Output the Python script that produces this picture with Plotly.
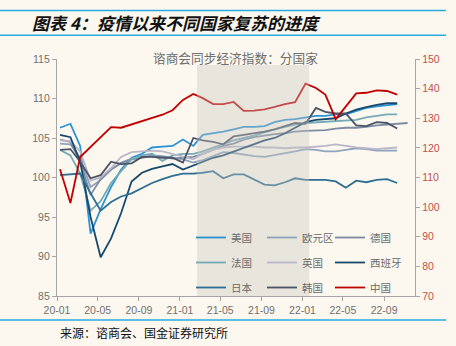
import pandas as pd
import plotly.graph_objects as go

months = pd.date_range("2020-01-01", periods=35, freq="MS")
tick_months = pd.date_range("2020-01-01", "2022-09-01", freq="4MS")
tick_labels = [m.strftime("%y-%m") for m in tick_months]

us = [106.3, 106.8, 104.0, 92.9, 96.0, 98.8, 101.0, 102.5, 103.0, 103.8, 103.9, 104.0, 104.8, 104.0, 105.4, 105.6, 105.8,
      106.1, 106.4, 106.4, 106.5, 107.0, 107.3, 107.4, 107.6, 107.8, 107.8, 108.0, 108.0, 108.4, 108.8, 109.0, 109.2, 109.3]
ez = [104.3, 104.2, 102.5, 98.8, 99.7, 101.0, 101.9, 102.4, 102.6, 102.8, 102.7, 102.5, 102.3, 101.9, 102.2, 102.7, 103.2,
      103.1, 102.9, 102.7, 102.6, 102.8, 103.1, 103.3, 103.6, 103.5, 103.3, 103.3, 103.5, 103.7, 103.6, 103.4, 103.4, 103.4]
de = [104.8, 104.5, 102.0, 97.8, 99.8, 101.0, 101.8, 102.3, 102.5, 102.7, 102.6, 102.4, 102.5, 102.6, 103.0, 103.5, 104.0,
      104.3, 104.8, 105.1, 105.3, 105.5, 105.6, 105.8, 105.9, 106.0, 106.0, 106.2, 106.3, 106.3, 106.4, 106.6, 106.7, 106.8, 106.9]
fr = [103.5, 102.8, 100.5, 95.8, 97.0, 99.3, 100.8, 102.3, 102.8, 103.0, 102.1, 102.8, 103.0, 103.0, 103.3, 103.8, 104.2,
      104.7, 105.0, 105.3, 105.7, 106.1, 106.4, 106.7, 106.9, 107.0, 107.0, 107.1, 107.2, 107.3, 107.6, 107.8, 108.0, 108.0]
uk = [104.7, 104.6, 103.3, 99.6, 100.0, 101.2, 102.6, 103.2, 103.3, 103.4, 103.3, 103.0, 102.7, 102.3, 103.0, 103.5, 103.8,
      103.9, 103.9, 103.9, 103.8, 103.8, 103.7, 103.8, 103.8, 103.9, 104.0, 104.2, 104.0, 103.8, 103.7, 103.6, 103.7, 103.8]
es = [105.4, 105.1, 102.0, 95.0, 89.9, 92.3, 95.5, 99.5, 100.6, 101.1, 101.4, 101.7, 101.0, 101.5, 102.0, 102.5, 102.8,
      103.3, 103.8, 104.3, 104.7, 105.0, 105.6, 106.3, 107.0, 107.3, 107.4, 107.5, 108.1, 108.6, 108.9, 109.2, 109.4, 109.4]
jp = [100.3, 100.4, 100.5, 98.0, 95.8, 96.9, 97.6, 98.0, 98.7, 99.3, 99.8, 100.2, 100.5, 100.5, 100.6, 100.8, 99.9,
      100.4, 100.4, 99.7, 99.1, 99.0, 99.4, 99.9, 99.7, 99.7, 99.7, 99.5, 98.7, 99.6, 99.4, 99.7, 99.8, 99.3]
kr = [103.5, 103.6, 102.0, 99.9, 100.3, 102.0, 101.7, 101.8, 102.6, 102.6, 102.5, 102.5, 101.9, 105.0, 104.7, 104.5, 104.2,
      105.2, 105.4, 105.6, 105.8, 106.1, 106.5, 106.9, 106.8, 108.8, 108.3, 108.1, 108.1, 106.6, 106.5, 107.0, 106.9, 106.2]
cn = [112.8, 101.4, 116.9, 120.3, 123.7, 127.0, 126.8, 127.9, 129.1, 130.3, 131.2, 132.7, 136.2, 138.2, 136.8, 134.8, 134.8,
      135.5, 132.5, 132.6, 133.0, 133.8, 134.8, 135.4, 141.7, 140.2, 138.0, 129.7, 133.8, 138.4, 138.6, 139.4, 139.2, 138.0]

series = [
    ("美国", us, "#2a93d5", "legend", "y"),
    ("欧元区", ez, "#8fa4bc", "legend2", "y"),
    ("德国", de, "#7d8ba3", "legend3", "y"),
    ("法国", fr, "#74aab6", "legend", "y"),
    ("英国", uk, "#b9b7c9", "legend2", "y"),
    ("西班牙", es, "#17496e", "legend3", "y"),
    ("日本", jp, "#2e6e93", "legend", "y"),
    ("韩国", kr, "#4b5467", "legend2", "y"),
    ("中国", cn, "#c00000", "legend3", "y2"),
]

fig = go.Figure()
for name, vals, color, leg, yax in series:
    fig.add_trace(go.Scatter(
        x=months[:len(vals)], y=vals, name=name, mode="lines",
        line=dict(color=color, width=1.8), legend=leg, legendgroup=name, yaxis=yax))

# pixel helpers for paper coords (plot area: x 57..415, y 59..296)
def px(xp):
    return (xp - 57) / 358.0

def py(yp):
    return (296 - yp) / 237.0

grey = "#707070"
tickfont = dict(family="Liberation Sans, Arial, sans-serif", size=10.5, color=grey)
legfont = dict(family="Noto Sans CJK SC, sans-serif", size=10.5, color="#6a6a6a")

fig.update_layout(
    width=456, height=346,
    margin=dict(l=57, r=41, t=59, b=50),
    paper_bgcolor="#fcf8ef", plot_bgcolor="#fcf8ef",
    showlegend=True,
    xaxis=dict(
        type="date",
        range=["2019-12-23", "2022-11-23"],
        tickvals=[m - pd.Timedelta(days=9) for m in tick_months],
        ticktext=tick_labels,
        ticks="outside", ticklen=4, tickcolor="#a6a6a6",
        showline=True, linecolor="#a6a6a6", linewidth=1.2,
        showgrid=False, zeroline=False, tickfont=tickfont,
    ),
    yaxis=dict(
        range=[85, 115], dtick=5, ticks="outside", ticklen=4, tickcolor="#a6a6a6",
        showline=True, linecolor="#a6a6a6", linewidth=1.2,
        showgrid=False, zeroline=False, tickfont=tickfont,
    ),
    yaxis2=dict(
        range=[70, 150], dtick=10, overlaying="y", side="right",
        ticks="outside", ticklen=4, tickcolor="#a6a6a6",
        showline=True, linecolor="#a6a6a6", linewidth=1.2,
        showgrid=False, zeroline=False,
        tickfont=dict(family="Liberation Sans, Arial, sans-serif", size=10.5, color="#c0504d"),
    ),
    legend=dict(x=px(191), y=py(223), xanchor="left", yanchor="top", bgcolor="rgba(0,0,0,0)",
                font=legfont, tracegroupgap=6),
    legend2=dict(x=px(262), y=py(223), xanchor="left", yanchor="top", bgcolor="rgba(0,0,0,0)",
                 font=legfont, tracegroupgap=6),
    legend3=dict(x=px(330), y=py(223), xanchor="left", yanchor="top", bgcolor="rgba(0,0,0,0)",
                 font=legfont, tracegroupgap=6),
    shapes=[
        dict(type="rect", xref="x", yref="paper", x0="2021-02-12", x1="2022-01-12", y0=0, y1=py(65),
             fillcolor="rgba(200,198,192,0.38)", line=dict(width=0), layer="above"),
        dict(type="line", xref="paper", yref="paper", x0=px(0), x1=px(446), y0=py(10.5), y1=py(10.5),
             line=dict(color="#29abe2", width=1.6)),
        dict(type="line", xref="paper", yref="paper", x0=px(0), x1=px(446), y0=py(35.3), y1=py(35.3),
             line=dict(color="#29abe2", width=1.6)),
        dict(type="line", xref="paper", yref="paper", x0=px(0), x1=px(446), y0=py(320), y1=py(320),
             line=dict(color="#29abe2", width=1.6)),
    ],
    annotations=[
        dict(text="图表 4：疫情以来不同国家复苏的进度", xref="paper", yref="paper", x=px(30), y=py(22.5),
             xanchor="left", yanchor="middle", showarrow=False,
             font=dict(family="Noto Sans CJK SC, sans-serif", size=17, color="#111111",
                       weight="bold", style="italic")),
        dict(text="谘商会同步经济指数：分国家", xref="paper", yref="paper", x=px(235), y=py(57),
             xanchor="center", yanchor="middle", showarrow=False,
             font=dict(family="Noto Sans CJK SC, sans-serif", size=12.7, color="#6e6e6e")),
        dict(text="来源：谘商会、国金证券研究所", xref="paper", yref="paper", x=px(58), y=py(332),
             xanchor="left", yanchor="middle", showarrow=False,
             font=dict(family="Noto Sans CJK SC, sans-serif", size=12, color="#111111")),
    ],
)

fig.write_html("out.html")
